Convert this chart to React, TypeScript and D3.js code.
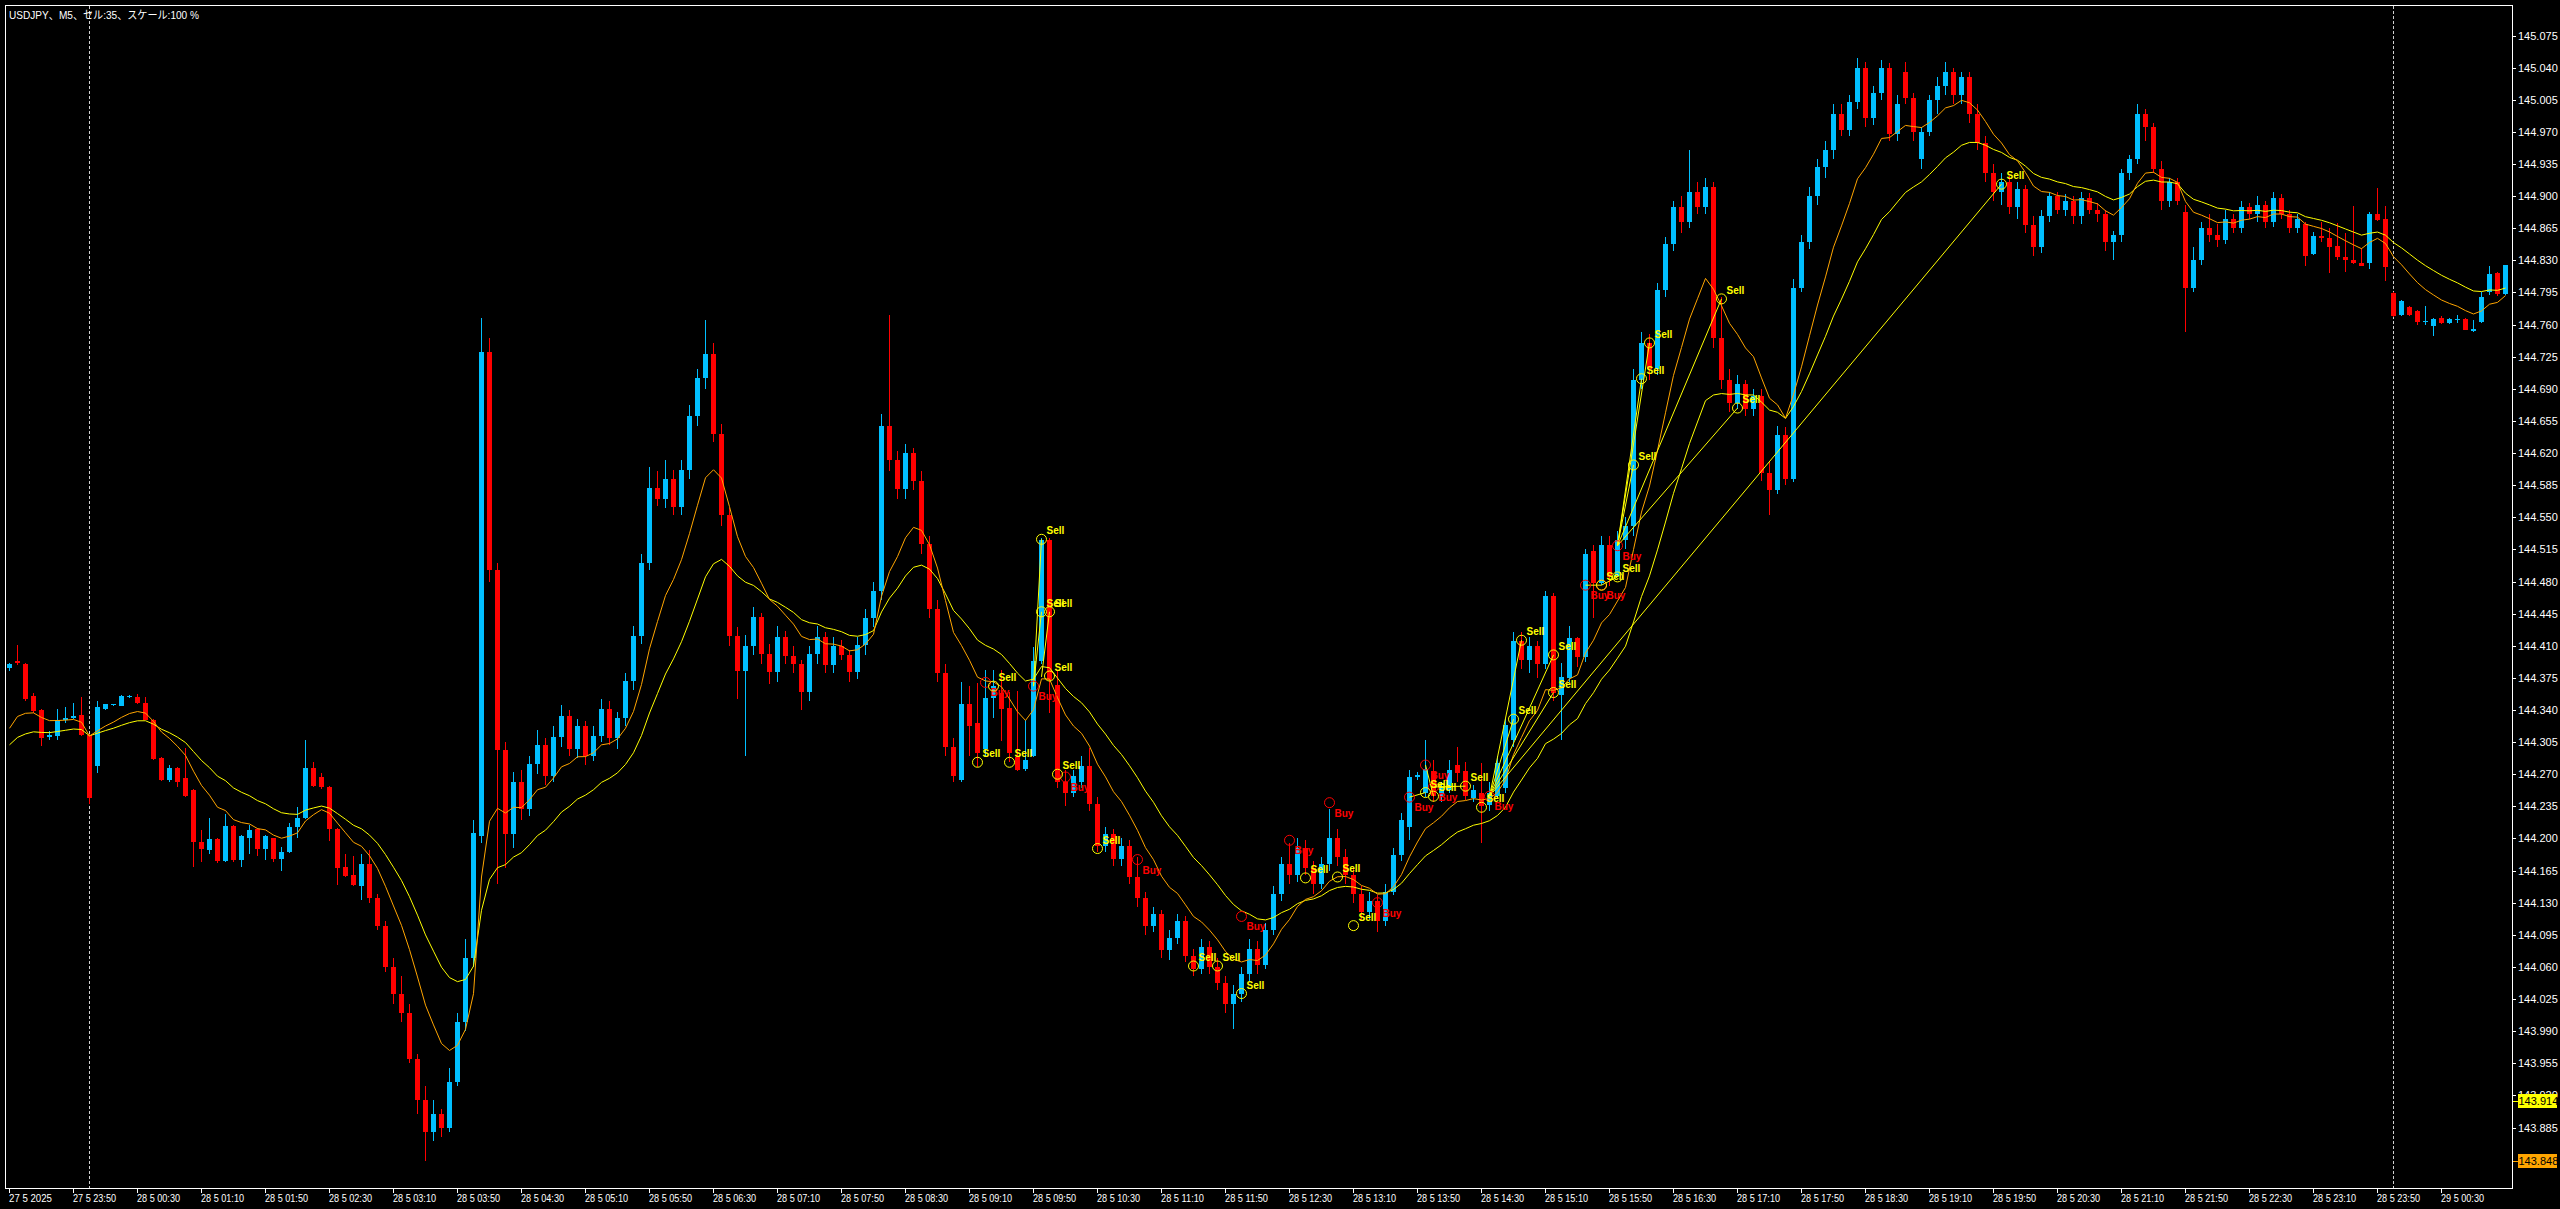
import React from "react";
import * as d3 from "d3";

const WIDTH = 2560;
const HEIGHT = 1209;

// ---- Candle data (USDJPY M5), bars 0..58
const opensA = [144.386,144.393,144.390,144.355,144.340,144.311,144.312,144.329,144.331,144.334,144.313,144.279,144.341,144.345,144.344,144.354,144.354,144.348,144.329,144.288,144.264,144.277,144.266,144.253,144.196,144.187,144.199,144.175,144.214,144.177,144.201,144.210,144.188,144.200,144.178,144.185,144.212,144.222,144.277,144.267,144.256,144.210,144.169,144.160,144.148,144.172,144.135,144.105,144.060,144.030,144.010,143.960,143.915,143.880,143.900,143.885,143.935,144.000,144.070];
const highsA = [144.391,144.411,144.391,144.358,144.341,144.317,144.341,144.343,144.348,144.354,144.314,144.350,144.347,144.347,144.356,144.356,144.357,144.354,144.330,144.289,144.280,144.278,144.299,144.254,144.209,144.222,144.200,144.227,144.215,144.204,144.215,144.211,144.204,144.201,144.191,144.217,144.234,144.307,144.283,144.271,144.257,144.211,144.183,144.181,144.183,144.187,144.140,144.110,144.070,144.050,144.020,143.965,143.930,143.915,143.905,143.950,144.010,144.090,144.220];
const lowsA = [144.383,144.389,144.350,144.337,144.301,144.307,144.307,144.326,144.330,144.312,144.238,144.271,144.340,144.344,144.344,144.353,144.347,144.329,144.286,144.263,144.262,144.256,144.245,144.169,144.174,144.183,144.173,144.174,144.174,144.169,144.183,144.181,144.176,144.174,144.165,144.184,144.200,144.221,144.256,144.254,144.197,144.149,144.158,144.148,144.133,144.130,144.100,144.055,144.020,144.000,143.955,143.900,143.848,143.870,143.875,143.880,143.930,143.990,144.060];
const closesA = [144.390,144.391,144.352,144.339,144.309,144.313,144.329,144.331,144.333,144.313,144.244,144.343,144.346,144.346,144.355,144.355,144.348,144.329,144.287,144.264,144.277,144.262,144.246,144.196,144.188,144.199,144.175,144.214,144.176,144.203,144.209,144.188,144.203,144.178,144.185,144.213,144.222,144.277,144.257,144.256,144.210,144.168,144.159,144.149,144.172,144.135,144.105,144.060,144.030,144.010,143.960,143.915,143.880,143.900,143.885,143.935,144.000,144.070,144.206];

// ---- bars 59..286
const opensB = [
144.203,144.730,144.492,144.296,144.205,144.262,144.232,144.281,144.302,144.268,
144.311,144.333,144.298,144.322,144.290,144.312,144.341,144.310,144.331,144.372,
144.421,144.500,144.582,144.570,144.592,144.561,144.601,144.660,144.702,144.728,
144.641,144.552,144.421,144.382,144.410,144.441,144.401,144.381,144.420,144.399,
144.390,144.360,144.401,144.420,144.389,144.410,144.400,144.381,144.411,144.440,
144.470,144.650,144.612,144.581,144.620,144.590,144.521,144.450,144.380,144.300,
144.264,144.347,144.326,144.297,144.353,144.358,144.342,144.289,144.276,144.290,
144.393,144.525,144.367,144.262,144.250,144.262,144.279,144.238,144.192,144.205,
144.178,144.192,144.158,144.135,144.105,144.118,144.078,144.092,144.110,144.072,
144.058,144.082,144.060,144.042,144.020,144.030,144.052,144.080,144.062,144.100,
144.140,144.172,144.160,144.190,144.168,144.150,144.172,144.200,144.180,144.160,
144.140,144.120,144.132,144.110,144.142,144.182,144.213,144.267,144.250,144.273,
144.246,144.253,144.280,144.273,144.244,144.249,144.236,144.246,144.255,144.307,
144.415,144.395,144.410,144.390,144.464,144.356,144.375,144.418,144.398,144.513,
144.478,144.520,144.486,144.525,144.540,144.700,144.740,144.712,144.798,144.848,
144.888,144.872,144.905,144.888,144.910,144.745,144.700,144.675,144.695,144.668,
144.682,144.598,144.580,144.640,144.592,144.800,144.850,144.900,144.932,144.950,
144.990,144.972,145.002,145.040,144.985,145.012,145.040,144.968,145.035,145.007,
144.940,144.970,145.005,145.020,145.035,145.010,145.030,144.990,144.958,144.925,
144.905,144.915,144.888,144.908,144.868,144.845,144.878,144.900,144.885,144.895,
144.878,144.898,144.885,144.880,144.850,144.858,144.925,144.940,144.990,144.975,
144.930,144.895,144.915,144.883,144.800,144.830,144.865,144.858,144.852,144.875,
144.865,144.888,144.880,144.890,144.872,144.898,144.880,144.865];
const highsB = [
144.767,144.745,144.500,144.305,144.272,144.275,144.290,144.318,144.310,144.322,
144.345,144.340,144.330,144.328,144.322,144.352,144.350,144.338,144.380,144.432,
144.510,144.605,144.600,144.612,144.602,144.612,144.672,144.712,144.765,144.740,
144.652,144.560,144.430,144.422,144.452,144.446,144.412,144.431,144.426,144.410,
144.395,144.410,144.432,144.425,144.420,144.416,144.405,144.420,144.450,144.480,
144.662,144.770,144.622,144.630,144.626,144.600,144.530,144.460,144.390,144.310,
144.370,144.366,144.369,144.384,144.384,144.384,144.360,144.361,144.329,144.409,
144.527,144.527,144.384,144.275,144.275,144.290,144.299,144.245,144.212,144.210,
144.200,144.198,144.180,144.142,144.125,144.122,144.100,144.118,144.115,144.080,
144.090,144.088,144.070,144.050,144.040,144.060,144.090,144.088,144.108,144.148,
144.180,144.195,144.200,144.198,144.175,144.180,144.232,144.210,144.188,144.168,
144.148,144.142,144.138,144.150,144.190,144.228,144.275,144.272,144.307,144.285,
144.262,144.285,144.300,144.283,144.258,144.282,144.262,144.290,144.330,144.425,
144.425,144.420,144.415,144.470,144.468,144.391,144.432,144.420,144.515,144.520,
144.530,144.530,144.535,144.550,144.712,144.752,144.750,144.805,144.855,144.895,
144.900,144.950,144.915,144.920,144.915,144.790,144.712,144.705,144.700,144.690,
144.690,144.610,144.650,144.648,144.810,144.858,144.910,144.940,144.960,145.000,
145.000,145.010,145.050,145.046,145.020,145.048,145.045,145.010,145.046,145.012,
144.975,145.010,145.030,145.046,145.040,145.035,145.035,145.000,144.965,144.935,
144.925,144.922,144.915,144.912,144.878,144.885,144.905,144.905,144.902,144.900,
144.905,144.903,144.892,144.885,144.862,144.930,144.945,145.000,144.995,144.980,
144.938,144.920,144.920,144.890,144.845,144.872,144.880,144.870,144.885,144.880,
144.895,144.892,144.900,144.895,144.905,144.902,144.885,144.880];
const lowsB = [
144.195,144.480,144.150,144.168,144.190,144.220,144.225,144.270,144.258,144.262,
144.300,144.290,144.288,144.280,144.284,144.305,144.302,144.298,144.322,144.362,
144.412,144.492,144.562,144.560,144.552,144.553,144.592,144.650,144.690,144.632,
144.540,144.410,144.352,144.290,144.400,144.390,144.368,144.370,144.390,144.380,
144.340,144.350,144.390,144.380,144.380,144.394,144.370,144.374,144.400,144.430,
144.460,144.600,144.570,144.570,144.580,144.510,144.440,144.370,144.290,144.262,
144.262,144.290,144.278,144.290,144.331,144.306,144.283,144.273,144.273,144.289,
144.390,144.337,144.255,144.235,144.245,144.255,144.230,144.185,144.185,144.170,
144.170,144.150,144.125,144.095,144.098,144.070,144.068,144.085,144.065,144.050,
144.052,144.052,144.035,144.010,143.992,144.022,144.045,144.052,144.058,144.095,
144.132,144.150,144.152,144.160,144.140,144.145,144.165,144.170,144.150,144.130,
144.110,144.112,144.098,144.105,144.138,144.175,144.198,144.264,144.245,144.240,
144.240,144.250,144.262,144.242,144.240,144.195,144.230,144.244,144.250,144.300,
144.385,144.380,144.375,144.385,144.350,144.307,144.370,144.387,144.392,144.440,
144.476,144.475,144.486,144.515,144.530,144.690,144.700,144.705,144.790,144.840,
144.860,144.865,144.880,144.880,144.735,144.690,144.665,144.668,144.660,144.660,
144.590,144.553,144.575,144.585,144.588,144.795,144.842,144.890,144.920,144.940,
144.965,144.965,144.995,144.975,144.978,145.005,144.960,144.960,145.000,144.960,
144.930,144.965,144.990,145.010,145.000,145.000,144.980,144.950,144.915,144.895,
144.890,144.880,144.875,144.860,144.835,144.838,144.872,144.880,144.878,144.870,
144.870,144.880,144.872,144.840,144.830,144.850,144.918,144.935,144.960,144.925,
144.885,144.888,144.890,144.752,144.795,144.825,144.850,144.845,144.848,144.860,
144.860,144.875,144.872,144.865,144.866,144.875,144.860,144.860];
const closesB = [
144.730,144.492,144.296,144.205,144.262,144.232,144.281,144.302,144.268,144.311,
144.333,144.298,144.322,144.290,144.312,144.341,144.310,144.331,144.372,144.421,
144.500,144.582,144.570,144.592,144.561,144.601,144.660,144.702,144.728,144.641,
144.552,144.421,144.382,144.410,144.441,144.401,144.381,144.420,144.399,144.390,
144.360,144.401,144.420,144.389,144.410,144.400,144.381,144.411,144.440,144.470,
144.650,144.612,144.581,144.620,144.590,144.521,144.450,144.380,144.300,144.268,
144.346,144.322,144.293,144.353,144.366,144.341,144.293,144.275,144.286,144.393,
144.525,144.373,144.262,144.250,144.268,144.279,144.238,144.192,144.205,144.178,
144.192,144.158,144.135,144.105,144.118,144.078,144.092,144.110,144.072,144.058,
144.082,144.060,144.042,144.020,144.030,144.052,144.080,144.062,144.100,144.140,
144.172,144.160,144.190,144.168,144.150,144.172,144.200,144.180,144.160,144.140,
144.120,144.132,144.110,144.142,144.182,144.220,144.267,144.269,144.276,144.246,
144.256,144.275,144.271,144.246,144.253,144.235,144.250,144.282,144.324,144.415,
144.395,144.410,144.390,144.464,144.358,144.376,144.418,144.398,144.510,144.478,
144.520,144.485,144.525,144.540,144.700,144.740,144.712,144.798,144.848,144.888,
144.872,144.905,144.888,144.910,144.745,144.700,144.675,144.695,144.668,144.682,
144.598,144.580,144.640,144.592,144.800,144.850,144.900,144.932,144.950,144.990,
144.972,145.002,145.040,144.985,145.012,145.040,144.968,145.000,145.007,144.970,
144.970,145.005,145.020,145.035,145.010,145.030,144.990,144.958,144.925,144.905,
144.915,144.888,144.908,144.868,144.845,144.878,144.900,144.885,144.895,144.878,
144.898,144.885,144.880,144.850,144.858,144.925,144.940,144.990,144.975,144.930,
144.895,144.915,144.895,144.800,144.830,144.865,144.858,144.852,144.875,144.865,
144.888,144.880,144.890,144.872,144.898,144.880,144.865,144.875];

// ---- bars 287..312
const opensC = [144.870,144.837,144.857,144.854,144.846,144.834,144.830,144.827,144.827,144.881,144.875,144.794,144.770,144.779,144.775,144.763,144.758,144.767,144.762,144.765,144.766,144.753,144.763,144.795,144.816,144.793];
const highsC = [144.872,144.861,144.872,144.865,144.871,144.860,144.889,144.843,144.883,144.909,144.889,144.795,144.787,144.780,144.776,144.780,144.767,144.769,144.767,144.770,144.767,144.765,144.795,144.824,144.817,144.825];
const lowsC = [144.824,144.836,144.850,144.816,144.830,144.817,144.826,144.824,144.821,144.873,144.808,144.768,144.769,144.769,144.760,144.759,144.747,144.761,144.761,144.762,144.754,144.752,144.762,144.792,144.791,144.792];
const closesC = [144.835,144.856,144.854,144.844,144.834,144.830,144.827,144.824,144.880,144.874,144.823,144.769,144.786,144.770,144.763,144.764,144.766,144.762,144.766,144.766,144.754,144.755,144.790,144.815,144.793,144.825];

const opens = [...opensA, ...opensB, ...opensC];
const highs = [...highsA, ...highsB, ...highsC];
const lows = [...lowsA, ...lowsB, ...lowsC];
const closes = [...closesA, ...closesB, ...closesC];

// moving-average values at the first bar
const emaFastStart = 144.320; // orange, EMA 10
const emaSlowStart = 144.302; // yellow, EMA 21

// ---- Axis labels
const priceTicks = [145.075,145.040,145.005,144.970,144.935,144.900,144.865,144.830,144.795,144.760,144.725,144.690,144.655,144.620,144.585,144.550,144.515,144.480,144.445,144.410,144.375,144.340,144.305,144.270,144.235,144.200,144.165,144.130,144.095,144.060,144.025,143.990,143.955,143.920,143.885];
const timeTicks = ["27 5 2025","27 5 23:50","28 5 00:30","28 5 01:10","28 5 01:50","28 5 02:30","28 5 03:10","28 5 03:50","28 5 04:30","28 5 05:10","28 5 05:50","28 5 06:30","28 5 07:10","28 5 07:50","28 5 08:30","28 5 09:10","28 5 09:50","28 5 10:30","28 5 11:10","28 5 11:50","28 5 12:30","28 5 13:10","28 5 13:50","28 5 14:30","28 5 15:10","28 5 15:50","28 5 16:30","28 5 17:10","28 5 17:50","28 5 18:30","28 5 19:10","28 5 19:50","28 5 20:30","28 5 21:10","28 5 21:50","28 5 22:30","28 5 23:10","28 5 23:50","29 5 00:30"];
const title = "USDJPY、M5、セル:35、スケール:100 %";
const levelValues = [143.914, 143.848];
const levelColors = ["#FFFF00", "#FFA500"];

// ---- Signals
const sellBars = [121,123,125,129,129,130,130,131,136,148,151,154,162,166,168,177,178,182,184,188,189,193,193,199,201,203,204,205,214,216,249];
const sellPrices = [144.283,144.366,144.283,144.526,144.447,144.447,144.377,144.270,144.189,144.061,144.061,144.031,144.157,144.158,144.105,144.250,144.246,144.257,144.234,144.330,144.416,144.400,144.359,144.476,144.485,144.607,144.701,144.740,144.788,144.669,144.913];
const buyBars = [122,128,132,141,154,160,165,171,175,177,178,185,197,199,201];
const buyPrices = [144.370,144.366,144.267,144.177,144.115,144.198,144.239,144.130,144.245,144.280,144.256,144.246,144.476,144.476,144.519];
const tradeOpenBars = [128,128,129,175,177,178,185,185,185,185,185,197,199,201,201,201,201,201];
const tradeOpenPrices = [144.366,144.366,144.376,144.245,144.280,144.256,144.246,144.246,144.246,144.246,144.246,144.476,144.476,144.519,144.519,144.519,144.519,144.519];
const tradeCloseBars = [129,129,130,177,178,182,188,189,193,193,249,199,201,203,204,205,214,216];
const tradeClosePrices = [144.526,144.447,144.447,144.250,144.246,144.257,144.330,144.416,144.400,144.359,144.913,144.476,144.485,144.607,144.701,144.740,144.788,144.669];

const START = new Date(2025, 4, 27, 23, 10);
const pad = (n: number) => String(n).padStart(2, "0");
const barLabel = (i: number) => {
  const d = new Date(START.getTime() + i * 5 * 60000);
  return `${d.getDate()} ${d.getMonth() + 1} ${pad(d.getHours())}:${pad(d.getMinutes())}`;
};

function ema(values: number[], period: number, start: number) {
  const a = 2 / (period + 1);
  const out: number[] = [];
  values.forEach((v, i) => {
    out.push(i === 0 ? start : out[i - 1] + a * (v - out[i - 1]));
  });
  return out;
}

export default function App() {
  const n = closes.length;
  const frame = { left: 5.5, top: 5.5, right: 2512.5, bottom: 1188.5 };
  const x = d3.scaleLinear().domain([0, n - 1]).range([9.5, 9.5 + 8 * (n - 1)]);
  const y = d3.scaleLinear().domain([143.885, 145.075]).range([1127.5, 35.5]);
  const BLUE = "#00BFFF";
  const RED = "#FF0000";
  const YEL = "#FFFF00";
  const font = "'Liberation Sans', Arial, sans-serif";

  const fast = ema(closes, 10, emaFastStart);
  const slow = ema(closes, 21, emaSlowStart);
  const line = d3.line<number>().x((_, i) => x(i)).y((v) => y(v));

  const labels = d3.range(n).map(barLabel);
  const tickIdx = timeTicks.map((t, k) => (k === 0 ? 0 : labels.indexOf(t)));
  const dayStarts = d3.range(n).filter((i) => labels[i].endsWith("00:00"));

  return (
    <svg width={WIDTH} height={HEIGHT} style={{ position: "absolute", left: 0, top: 0, display: "block" }}>
      <rect x={0} y={0} width={WIDTH} height={HEIGHT} fill="#000" />
      <defs>
        <clipPath id="plot">
          <rect x={6} y={6} width={2506} height={1182} />
        </clipPath>
      </defs>
      <g clipPath="url(#plot)">
        {dayStarts.map((i) => (
          <line key={"d" + i} x1={x(i)} x2={x(i)} y1={6} y2={1188} stroke="#D0D0D0" strokeDasharray="3,2" />
        ))}
        <g shapeRendering="crispEdges">
          {closes.map((c, i) => {
            const o = opens[i];
            const up = c >= o;
            const col = up ? BLUE : RED;
            const top = y(Math.max(o, c));
            const bot = y(Math.min(o, c));
            return (
              <g key={i}>
                <line x1={x(i)} x2={x(i)} y1={y(highs[i])} y2={y(lows[i])} stroke={col} />
                <rect x={x(i) - 2.5} y={top} width={5} height={Math.max(1, bot - top)} fill={col} />
              </g>
            );
          })}
        </g>
        <path d={line(slow) || ""} fill="none" stroke={YEL} strokeWidth={1} />
        <path d={line(fast) || ""} fill="none" stroke="#FFA500" strokeWidth={1} />
        {tradeOpenBars.map((b, k) => (
          <line key={"t" + k} x1={x(b)} y1={y(tradeOpenPrices[k])} x2={x(tradeCloseBars[k])} y2={y(tradeClosePrices[k])} stroke={YEL} strokeWidth={1} />
        ))}
        {buyBars.map((b, k) => (
          <g key={"b" + k}>
            <circle cx={x(b)} cy={y(buyPrices[k])} r={5} fill="none" stroke={RED} />
            <text x={x(b) + 5} y={y(buyPrices[k]) + 14} fill={RED} fontSize={10} fontWeight="bold" fontFamily={font}>Buy</text>
          </g>
        ))}
        {sellBars.map((b, k) => (
          <g key={"s" + k}>
            <circle cx={x(b)} cy={y(sellPrices[k])} r={5} fill="none" stroke={YEL} />
            <text x={x(b) + 5} y={y(sellPrices[k]) - 5} fill={YEL} fontSize={10} fontWeight="bold" fontFamily={font}>Sell</text>
          </g>
        ))}
      </g>
      <g shapeRendering="crispEdges" stroke="#FFFFFF" fill="none">
        <rect x={frame.left} y={frame.top} width={frame.right - frame.left} height={frame.bottom - frame.top} />
      </g>
      <text x={9} y={19} fill="#FFFFFF" fontSize={11} fontFamily={font + ", 'Noto Sans CJK JP'"} textLength={190} lengthAdjust="spacingAndGlyphs">{title}</text>
      <g shapeRendering="crispEdges">
        {priceTicks.map((p) => (
          <g key={p}>
            <line x1={2513} x2={2516} y1={Math.round(y(p)) + 0.5} y2={Math.round(y(p)) + 0.5} stroke="#FFFFFF" />
            <text x={2518} y={y(p) + 4} fill="#FFFFFF" fontSize={11} fontFamily={font}>{p.toFixed(3)}</text>
          </g>
        ))}
        {levelValues.map((v, k) => (
          <g key={v}>
            <line x1={2513} x2={2518} y1={Math.round(y(v)) + 0.5} y2={Math.round(y(v)) + 0.5} stroke={levelColors[k]} />
            <rect x={2517.5} y={y(v) - 7} width={39.5} height={14} fill={levelColors[k]} />
            <text x={2518.5} y={y(v) + 4} fill="#000" fontSize={11} fontFamily={font}>{v.toFixed(3)}</text>
          </g>
        ))}
      </g>
      <g shapeRendering="crispEdges">
        {tickIdx.map((i, k) => (
          <g key={k}>
            <line x1={x(i)} x2={x(i)} y1={1189} y2={1193} stroke="#FFFFFF" />
            <text x={x(i) - 0.5} y={1202} fill="#FFFFFF" fontSize={11} fontFamily={font} textLength={43} lengthAdjust="spacingAndGlyphs">{timeTicks[k]}</text>
          </g>
        ))}
      </g>
    </svg>
  );
}
